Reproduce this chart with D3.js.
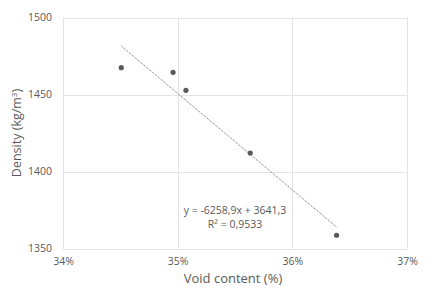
<!DOCTYPE html>
<html>
<head>
<meta charset="utf-8">
<script src="https://cdn.jsdelivr.net/npm/d3@7"></script>
<style>
  body { margin: 0; background: #fff; }
  svg { display: block; font-family: "Open Sans", "Liberation Sans", sans-serif; }
</style>
</head>
<body>
<div id="graph"></div>
<script>
// Data ////////////////////////////////////////////////////////////////////
const voidContent = [0.34508, 0.34960, 0.35072, 0.35633, 0.36386];
const density = [1467.4, 1464.4, 1452.7, 1412.0, 1358.6];
const xTicks = [0.34, 0.35, 0.36, 0.37];
const yTicks = [1350, 1400, 1450, 1500];
const slope = -6258.9;
const intercept = 3641.3;
const equationLines = ["y = -6258,9x + 3641,3", "R\u00b2 = 0,9533"];

// Constants ///////////////////////////////////////////////////////////////
const svgWidth = 432;
const svgHeight = 296;
const margin = { top: 17.5, right: 25, bottom: 47.5, left: 63 };
const textColor = "#595959";

const svg = d3
  .select("#graph")
  .append("svg")
  .attr("width", svgWidth)
  .attr("height", svgHeight);

const x = d3
  .scaleLinear()
  .domain([0.34, 0.37])
  .range([margin.left, svgWidth - margin.right]);

const y = d3
  .scaleLinear()
  .domain([1350, 1500])
  .range([svgHeight - margin.bottom, margin.top]);

// Grid ////////////////////////////////////////////////////////////////////
svg
  .append("g")
  .selectAll("line")
  .data(yTicks)
  .join("line")
  .attr("x1", x.range()[0])
  .attr("x2", x.range()[1])
  .attr("y1", d => Math.round(y(d)) + 0.5)
  .attr("y2", d => Math.round(y(d)) + 0.5)
  .style("stroke", "#e3e3e3");

svg
  .append("g")
  .selectAll("line")
  .data(xTicks)
  .join("line")
  .attr("x1", d => Math.round(x(d)) + 0.5)
  .attr("x2", d => Math.round(x(d)) + 0.5)
  .attr("y1", y.range()[0])
  .attr("y2", y.range()[1])
  .style("stroke", "#e3e3e3");

// Tick labels /////////////////////////////////////////////////////////////
const yAxis = svg
  .append("g")
  .attr("transform", `translate(${margin.left},0)`)
  .call(
    d3.axisLeft(y)
      .tickValues(yTicks)
      .tickSize(0)
      .tickPadding(11)
      .tickFormat(d3.format("d"))
  );

const xAxis = svg
  .append("g")
  .attr("transform", `translate(0,${svgHeight - margin.bottom})`)
  .call(
    d3.axisBottom(x)
      .tickValues(xTicks)
      .tickSize(0)
      .tickPadding(9)
      .tickFormat(d3.format(".0%"))
  );

[xAxis, yAxis].forEach(axis => {
  axis.select(".domain").remove();
  axis
    .selectAll("text")
    .style("font-family", "'Open Sans', 'Liberation Sans', sans-serif")
    .style("font-size", "10.5px")
    .style("fill", textColor);
});

// Axis titles /////////////////////////////////////////////////////////////
svg
  .append("text")
  .attr("x", 233)
  .attr("y", 283)
  .attr("text-anchor", "middle")
  .style("font-size", "13px")
  .style("fill", textColor)
  .text("Void content (%)");

const yTitle = svg
  .append("text")
  .attr("transform", "translate(21,133) rotate(-90)")
  .attr("text-anchor", "middle")
  .style("font-size", "12.5px")
  .style("fill", textColor);
yTitle.append("tspan").text("Density (kg/m");
yTitle.append("tspan").attr("dy", -4).style("font-size", "8px").text("3");
yTitle.append("tspan").attr("dy", 4).text(")");

// Trendline ///////////////////////////////////////////////////////////////
const xExtent = d3.extent(voidContent);
svg
  .append("line")
  .attr("x1", x(xExtent[0]))
  .attr("y1", y(slope * xExtent[0] + intercept))
  .attr("x2", x(xExtent[1]))
  .attr("y2", y(slope * xExtent[1] + intercept))
  .style("stroke", "#595959")
  .style("stroke-width", 0.9)
  .style("stroke-dasharray", "1,1");

// Points //////////////////////////////////////////////////////////////////
svg
  .append("g")
  .selectAll("circle")
  .data(voidContent.map((v, i) => ({ v, d: density[i] })))
  .join("circle")
  .attr("cx", d => x(d.v))
  .attr("cy", d => y(d.d))
  .attr("r", 2.6)
  .style("fill", "#595959");

// Equation label //////////////////////////////////////////////////////////
svg
  .append("g")
  .selectAll("text")
  .data(equationLines)
  .join("text")
  .attr("x", 235)
  .attr("y", (d, i) => 214 + i * 14)
  .attr("text-anchor", "middle")
  .style("font-size", "10.5px")
  .style("fill", textColor)
  .text(d => d);
</script>
</body>
</html>
